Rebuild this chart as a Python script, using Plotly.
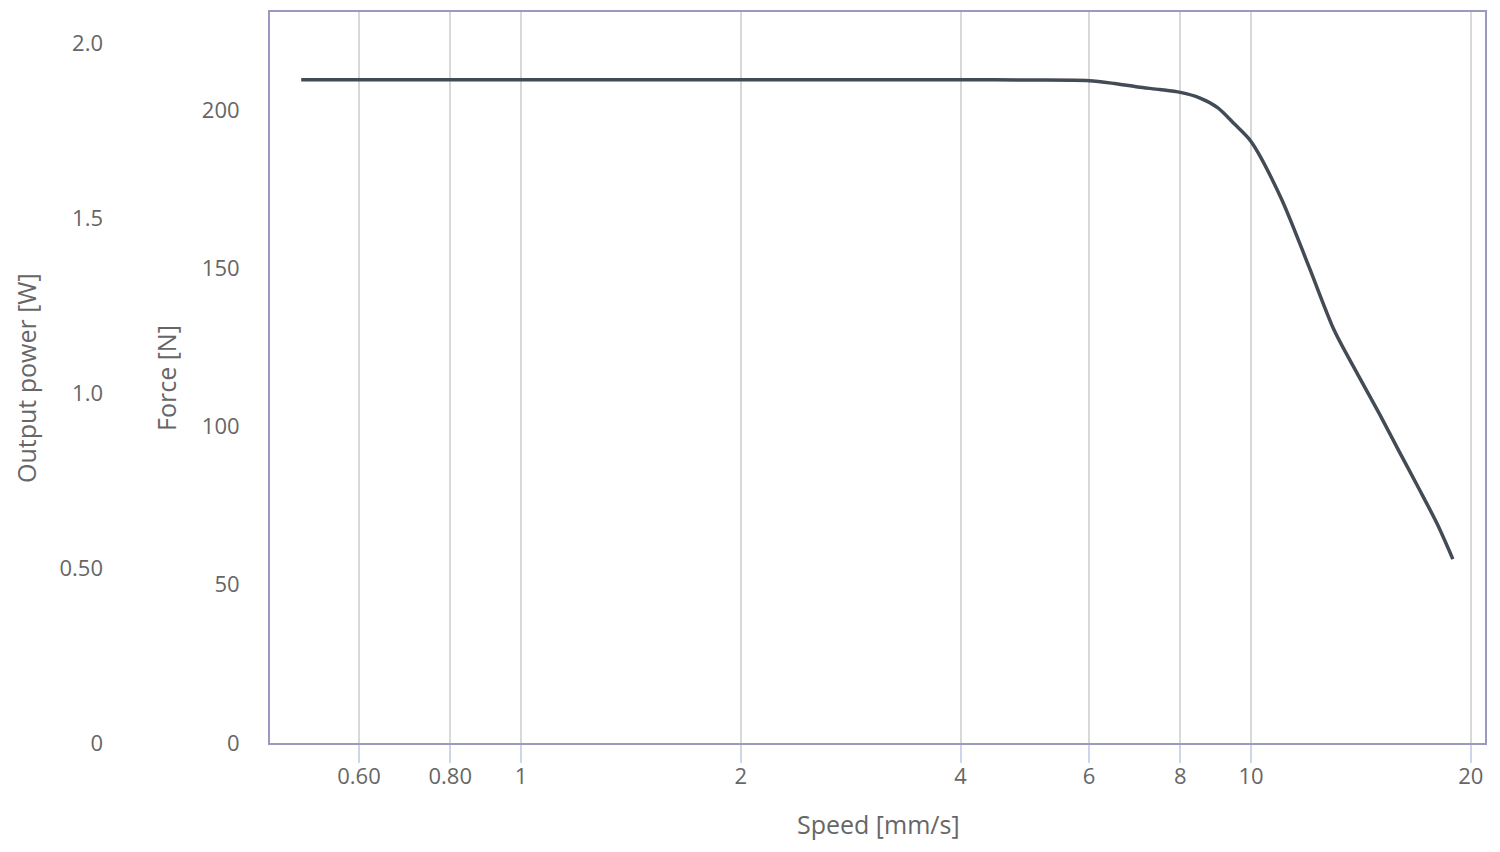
import plotly.graph_objects as go

# Data
speed = [0.5, 0.6, 0.8, 1, 2, 3, 4, 5, 6, 6.5, 7, 7.5, 8, 8.5, 9, 9.5, 10,
         11, 12, 13, 14, 15, 16, 17, 18, 18.9]
force = [209.6, 209.6, 209.6, 209.6, 209.6, 209.6, 209.6, 209.5, 209.3, 208.4,
         207.3, 206.5, 205.6, 203.9, 200.8, 195.5, 190.1,
         172.1, 150.6, 130.4, 116.5, 103.9, 91.6, 80.2, 69.1, 58.1]

x_tickvals = [0.6, 0.8, 1, 2, 4, 6, 8, 10, 20]
x_ticktext = ["0.60", "0.80", "1", "2", "4", "6", "8", "10", "20"]
force_ticks = [0, 50, 100, 150, 200]
power_tickvals = [0, 0.5, 1.0, 1.5, 2.0]
power_ticktext = ["0", "0.50", "1.0", "1.5", "2.0"]

W, H = 1500, 852
OFF = 8                      # page offset of the plot div
PAPER_W = 1477               # paper width (margin l = 0)
PLOT_TOP, PLOT_BOT = 12, 743  # target pixel rows of plot area
PH = PLOT_BOT - PLOT_TOP
FONT = "Open Sans"
TXT = "#666666"
LBL = 22
TTL = 25


def px(p):
    return (p - OFF) / PAPER_W


def py(p):
    return (PLOT_BOT - p) / PH


fig = go.Figure()
fig.add_trace(go.Scatter(
    x=speed, y=force, mode="lines",
    line=dict(color="#434b55", width=3.5, shape="spline", smoothing=0.8),
    showlegend=False, hoverinfo="x+y",
))
fig.add_trace(go.Scatter(x=[1], y=[0], yaxis="y2", mode="markers",
                         marker=dict(opacity=0), showlegend=False, hoverinfo="skip"))

fig.update_layout(
    width=W, height=H,
    margin=dict(l=0, r=W - PAPER_W, t=PLOT_TOP - OFF, b=H - (PLOT_BOT - OFF),
                autoexpand=False),
    paper_bgcolor="white", plot_bgcolor="white",
    font=dict(family=FONT, size=LBL, color=TXT),
    xaxis=dict(
        type="log", domain=[px(270), 1],
        range=[-0.3438, 1.3205],
        tickvals=x_tickvals, ticktext=x_ticktext,
        showgrid=True, gridcolor="#d8d8d8", gridwidth=2,
        ticks="outside", ticklen=18, tickwidth=2, tickcolor="#ccd6eb",
        ticklabelstandoff=-5,
        showline=True, linecolor="#9a9abf", linewidth=2, mirror=True,
        zeroline=False, automargin=False,
        tickfont=dict(family=FONT, size=LBL, color=TXT),
    ),
    yaxis=dict(
        range=[0, 231], tickvals=force_ticks,
        showgrid=False, zeroline=False, ticks="",
        showline=True, linecolor="#9a9abf", linewidth=2, mirror=True,
        ticklabelstandoff=24, automargin=False,
        tickfont=dict(family=FONT, size=LBL, color=TXT),
    ),
    yaxis2=dict(
        overlaying="y", side="left", anchor="free", position=px(103),
        range=[0, 2.09], tickvals=power_tickvals, ticktext=power_ticktext,
        showgrid=False, zeroline=False, ticks="", showline=False,
        ticklabelstandoff=0, automargin=False,
        tickfont=dict(family=FONT, size=LBL, color=TXT),
    ),
    annotations=[
        dict(text="Force [N]", xref="paper", yref="paper", x=px(166), y=py(378),
             textangle=-90, showarrow=False, xanchor="center", yanchor="middle",
             font=dict(family=FONT, size=TTL, color=TXT)),
        dict(text="Output power [W]", xref="paper", yref="paper", x=px(26), y=py(378),
             textangle=-90, showarrow=False, xanchor="center", yanchor="middle",
             font=dict(family=FONT, size=TTL, color=TXT)),
        dict(text="Speed [mm/s]", xref="paper", yref="paper", x=px(878),
             y=py(824), showarrow=False, xanchor="center", yanchor="middle",
             font=dict(family=FONT, size=TTL, color=TXT)),
    ],
)

fig.write_html("out.html")
